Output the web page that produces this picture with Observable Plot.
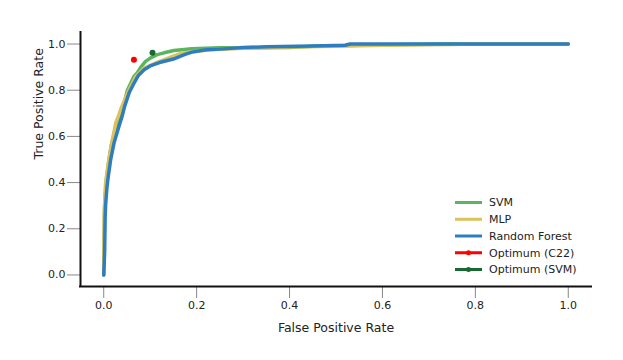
<!DOCTYPE html>
<html>
<head>
<meta charset="utf-8">
<script src="https://cdn.jsdelivr.net/npm/d3@7"></script>
<script src="https://cdn.jsdelivr.net/npm/@observablehq/plot@0.6"></script>
<style>
  html, body { margin: 0; padding: 0; background: #fff; }
  #chart svg { font-family: "DejaVu Sans", sans-serif; }
</style>
</head>
<body>
<div id="chart"></div>
<script>
// ROC curve: Random Forest
const rfFpr = [0, 0.002, 0.003, 0.004, 0.007, 0.010, 0.015, 0.022, 0.033, 0.040, 0.045, 0.055, 0.065, 0.075, 0.087, 0.100, 0.120, 0.150, 0.175, 0.190, 0.220, 0.250, 0.300, 0.350, 0.450, 0.520, 0.530, 1.0];
const rfTpr = [0, 0.10, 0.25, 0.30, 0.38, 0.43, 0.50, 0.57, 0.645, 0.69, 0.73, 0.79, 0.83, 0.865, 0.889, 0.905, 0.920, 0.935, 0.955, 0.965, 0.975, 0.978, 0.985, 0.988, 0.991, 0.995, 1.0, 1.0];
// ROC curve: SVM
const svmFpr = [0, 0.001, 0.002, 0.005, 0.010, 0.016, 0.025, 0.035, 0.044, 0.051, 0.065, 0.072, 0.080, 0.090, 0.101, 0.115, 0.130, 0.151, 0.190, 0.250, 0.300, 0.400, 0.450, 0.550, 0.650, 0.750, 1.0];
const svmTpr = [0, 0.15, 0.30, 0.40, 0.48, 0.56, 0.63, 0.70, 0.745, 0.80, 0.86, 0.875, 0.90, 0.925, 0.94, 0.954, 0.962, 0.972, 0.98, 0.984, 0.983, 0.985, 0.99, 0.995, 0.998, 1.0, 1.0];
// ROC curve: MLP
const mlpFpr = [0, 0.001, 0.004, 0.011, 0.018, 0.026, 0.032, 0.037, 0.054, 0.069, 0.087, 0.112, 0.140, 0.166, 0.230, 0.300, 0.400, 0.500, 0.600, 0.750, 0.800, 1.0];
const mlpTpr = [0, 0.27, 0.40, 0.50, 0.58, 0.66, 0.69, 0.72, 0.80, 0.86, 0.896, 0.918, 0.94, 0.96, 0.975, 0.982, 0.987, 0.99, 0.995, 0.998, 1.0, 1.0];
// Optimum points
const optC22 = {fpr: 0.065, tpr: 0.932};
const optSVM = {fpr: 0.105, tpr: 0.962};

const xTicks = [0, 0.2, 0.4, 0.6, 0.8, 1.0];
const yTicks = [0, 0.2, 0.4, 0.6, 0.8, 1.0];
const seriesNames = ["SVM", "MLP", "Random Forest", "Optimum (C22)", "Optimum (SVM)"];
const seriesColors = ["#5ab55e", "#dcc25a", "#2e7ebf", "#ff0000", "#17692f"];

const toRows = (xs, ys) => xs.map((x, i) => ({fpr: x, tpr: ys[i]}));
const svm = toRows(svmFpr, svmTpr);
const mlp = toRows(mlpFpr, mlpTpr);
const rf = toRows(rfFpr, rfTpr);

const W = 623, H = 360;
const mL = 80, mR = 32, mT = 32, mB = 74;

const plot = Plot.plot({
  width: W, height: H,
  marginLeft: mL, marginRight: mR, marginTop: mT, marginBottom: mB,
  style: {fontFamily: "DejaVu Sans, sans-serif", background: "#fff"},
  x: {domain: [-0.05, 1.05]},
  y: {domain: [-0.05, 1.05]},
  marks: [
    Plot.axisX({ticks: xTicks, tickSize: 12, tickPadding: 3, tickFormat: d3.format(".1f"), stroke: "#888", fill: "#222", fontSize: 11, label: null}),
    Plot.axisY({ticks: yTicks, tickSize: 13, tickPadding: 2, tickFormat: d3.format(".1f"), stroke: "#888", fill: "#222", fontSize: 11, label: null}),
    Plot.line(svm, {x: "fpr", y: "tpr", stroke: seriesColors[0], strokeWidth: 3.5}),
    Plot.line(mlp, {x: "fpr", y: "tpr", stroke: seriesColors[1], strokeWidth: 3.5}),
    Plot.line(rf, {x: "fpr", y: "tpr", stroke: seriesColors[2], strokeWidth: 3.5}),
    Plot.dot([optC22], {x: "fpr", y: "tpr", r: 3, fill: seriesColors[3], stroke: null}),
    Plot.dot([optSVM], {x: "fpr", y: "tpr", r: 3, fill: seriesColors[4], stroke: null}),
    Plot.ruleX([-0.05], {stroke: "#111", strokeWidth: 2, strokeLinecap: "square"}),
    Plot.ruleY([-0.05], {stroke: "#111", strokeWidth: 2, strokeLinecap: "square"}),
    Plot.text(["False Positive Rate"], {frameAnchor: "bottom", dy: 41, text: d => d, fontSize: 12.5, fill: "#222", lineAnchor: "middle"}),
    Plot.text(["True Positive Rate"], {frameAnchor: "left", dx: -42, rotate: -90, text: d => d, fontSize: 12.5, fill: "#222", lineAnchor: "middle"})
  ]
});
document.getElementById("chart").appendChild(plot);

// In-plot legend (lower right)
const svg = d3.select(plot);
const lg = svg.append("g")
  .attr("font-family", "DejaVu Sans, sans-serif")
  .attr("font-size", 11)
  .attr("text-anchor", "start");
const lx0 = 455, lx1 = 482, ltx = 489, ly0 = 202.5, ldy = 16.75;
seriesNames.forEach((name, i) => {
  const y = ly0 + i * ldy;
  lg.append("line").attr("x1", lx0).attr("x2", lx1).attr("y1", y).attr("y2", y)
    .attr("stroke", seriesColors[i]).attr("stroke-width", 3);
  if (i >= 3) {
    lg.append("circle").attr("cx", (lx0 + lx1) / 2).attr("cy", y).attr("r", 2.5).attr("fill", seriesColors[i]);
  }
  lg.append("text").attr("x", ltx).attr("y", y).attr("dy", "0.35em")
    .attr("text-anchor", "start").attr("fill", "#222").text(name);
});
</script>
</body>
</html>
